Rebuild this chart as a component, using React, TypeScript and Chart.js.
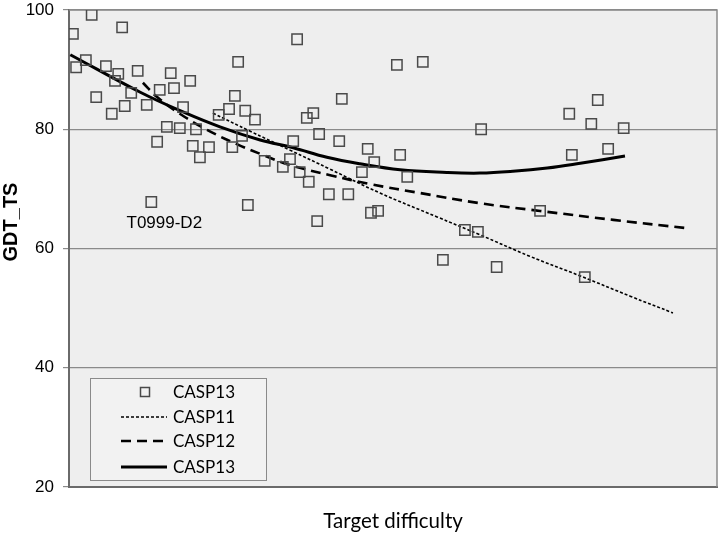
import { useEffect, useRef } from "react";
import { Chart, registerables } from "chart.js";

Chart.register(...registerables);

// ---------- text ----------
const X_TITLE = "Target difficulty";
const Y_TITLE = "GDT_TS";
const Y_MIN = 20;
const Y_MAX = 100;
const Y_STEP = 20;
const X_MIN = 0;
const X_MAX = 100;
const ANNOTATION_TEXT = "T0999-D2";
const ANNOTATION_INDEX = 35; // the CASP13 target that the label belongs to

// ---------- CASP13 targets (scatter) ----------
const casp13Difficulty = [
  0.6, 3.5, 8.2, 2.6, 1.1, 5.7, 7.6, 7.1, 10.6, 4.2,
  9.6, 6.6, 8.6, 12.0, 14.0, 15.7, 16.2, 18.7, 17.6, 15.1,
  17.1, 19.6, 13.6, 19.1, 21.6, 20.2, 23.1, 24.7, 25.6, 26.1,
  27.2, 28.7, 26.7, 25.2, 30.2, 12.7, 27.6, 35.2, 50.6, 54.6,
  42.1, 37.7, 36.7, 38.6, 34.6, 41.7, 46.1, 51.1, 47.1, 45.2,
  52.2, 33.0, 34.1, 35.6, 37.0, 40.1, 43.1, 46.6, 47.7, 38.3,
  63.6, 72.7, 61.1, 63.1, 57.7, 66.0, 79.6, 77.2, 81.6, 80.6,
  85.6, 83.2, 77.6,
];
const casp13Gdt = [
  96.0, 99.2, 97.1, 91.6, 90.4, 90.6, 89.3, 88.1, 89.8, 85.4,
  86.1, 82.6, 83.9, 84.1, 86.6, 89.4, 86.9, 88.1, 83.7, 80.4,
  80.2, 80.0, 77.9, 77.2, 77.0, 75.3, 82.4, 83.4, 85.6, 91.3,
  83.1, 81.6, 78.9, 77.0, 74.7, 67.8, 67.3, 95.1, 90.8, 91.3,
  85.1, 82.7, 81.9, 79.2, 78.0, 78.0, 76.7, 75.7, 74.5, 72.8,
  72.0, 73.7, 75.0, 72.8, 71.2, 69.1, 69.1, 66.0, 66.3, 64.6,
  80.0, 66.3, 63.1, 62.8, 58.1, 56.9, 55.2, 82.6, 84.9, 80.9,
  80.2, 76.7, 75.7,
];

// ---------- trend lines ----------
const casp11TrendX = [22.2, 27.9, 34.1, 40.3, 48.0, 56.8, 63.4, 71.1, 78.9, 86.6, 93.2];
const casp11TrendY = [82.7, 79.7, 76.5, 73.3, 69.3, 65.3, 62.3, 58.7, 55.4, 52.0, 49.2];

const casp12TrendX = [11.4, 13.6, 17.1, 21.3, 25.9, 29.9, 34.1, 40.3, 46.5, 54.2, 63.4, 72.7, 84.0, 95.4];
const casp12TrendY = [87.8, 85.4, 82.6, 79.9, 77.5, 75.7, 74.0, 72.3, 70.8, 69.3, 67.6, 66.3, 64.8, 63.4];

const casp13TrendX = [0.2, 11.0, 17.6, 23.3, 29.5, 34.6, 39.8, 44.9, 51.1, 58.3, 63.4, 68.5, 73.8, 78.9, 85.8];
const casp13TrendY = [92.5, 86.2, 82.9, 80.4, 78.2, 76.9, 75.3, 74.2, 73.2, 72.75, 72.65, 72.95, 73.5, 74.3, 75.5];

const seriesLabels = ["CASP13", "CASP11", "CASP12", "CASP13"];

const pts = (xs: number[], ys: number[]) => xs.map((x, i) => ({ x, y: ys[i] }));

const TICK_FONT = "Liberation Sans, Arial, sans-serif";
const TITLE_FONT = "Lato, Liberation Sans, sans-serif";

const zeroPad = (s: any) => {
  s.paddingTop = 0;
  s.paddingBottom = 0;
  s.paddingLeft = 0;
  s.paddingRight = 0;
};

const decorPlugin = {
  id: "decor",
  beforeDraw(chart: any) {
    const { ctx, chartArea: a } = chart;
    ctx.save();
    ctx.fillStyle = "#eeeeee";
    ctx.fillRect(a.left, a.top, a.right - a.left, a.bottom - a.top);
    ctx.restore();
  },
  beforeDatasetsDraw(chart: any) {
    const { ctx, chartArea: a } = chart;
    ctx.save();
    ctx.strokeStyle = "#8a8a8a";
    ctx.lineWidth = 1.5;
    ctx.beginPath();
    ctx.moveTo(a.left, a.top);
    ctx.lineTo(a.right, a.top);
    ctx.lineTo(a.right, a.bottom);
    ctx.stroke();
    ctx.restore();
  },
  afterDraw(chart: any) {
    const { ctx, chartArea: a } = chart;
    const xs = chart.scales.x;
    const ys = chart.scales.y;

    // y axis title
    ctx.save();
    ctx.translate(11, 222);
    ctx.rotate(-Math.PI / 2);
    ctx.font = `bold 20px ${TICK_FONT}`;
    ctx.fillStyle = "#000";
    ctx.textAlign = "center";
    ctx.textBaseline = "middle";
    ctx.fillText(Y_TITLE, 0, 0);
    ctx.restore();

    // annotation next to its target
    const ax = xs.getPixelForValue(casp13Difficulty[ANNOTATION_INDEX]);
    const ay = ys.getPixelForValue(casp13Gdt[ANNOTATION_INDEX]);
    ctx.save();
    ctx.font = `17px ${TICK_FONT}`;
    ctx.fillStyle = "#000";
    ctx.textAlign = "center";
    ctx.textBaseline = "middle";
    ctx.fillText(ANNOTATION_TEXT, ax + 13, ay + 21);
    ctx.restore();

    // legend box
    const bx = a.left + 21;
    const by = a.bottom - 109;
    const bw = 176;
    const bh = 102;
    ctx.save();
    ctx.fillStyle = "#f2f2f2";
    ctx.fillRect(bx, by, bw, bh);
    ctx.strokeStyle = "#8a8a8a";
    ctx.lineWidth = 1;
    ctx.strokeRect(bx + 0.5, by + 0.5, bw, bh);
    const rows = [14, 39, 63, 89];
    chart.data.datasets.forEach((ds: any, i: number) => {
      const ry = by + rows[i];
      ctx.save();
      if (i === 0) {
        const s = 9;
        ctx.strokeStyle = ds.borderColor;
        ctx.lineWidth = 1.5;
        ctx.strokeRect(bx + 55 - s / 2, ry - s / 2, s, s);
      } else {
        ctx.strokeStyle = ds.borderColor;
        ctx.lineWidth = ds.borderWidth;
        ctx.setLineDash(ds.borderDash || []);
        ctx.beginPath();
        ctx.moveTo(bx + 31, ry);
        ctx.lineTo(bx + 77, ry);
        ctx.stroke();
      }
      ctx.restore();
      ctx.font = `17px ${TITLE_FONT}`;
      ctx.fillStyle = "#000";
      ctx.textAlign = "left";
      ctx.textBaseline = "middle";
      ctx.fillText(ds.label, bx + 83, ry + 1);
    });
    ctx.restore();
  },
};

export default function App() {
  const ref = useRef<HTMLCanvasElement | null>(null);

  useEffect(() => {
    if (!ref.current) return;
    const chart = new Chart(ref.current, {
      type: "scatter",
      data: {
        datasets: [
          {
            label: seriesLabels[0],
            data: pts(casp13Difficulty, casp13Gdt),
            pointStyle: "rect",
            pointRadius: 7.3,
            pointBorderWidth: 1.5,
            borderColor: "#4a4a4a",
            pointBorderColor: "#4a4a4a",
            pointBackgroundColor: "rgba(0,0,0,0)",
            backgroundColor: "rgba(0,0,0,0)",
            showLine: false,
          },
          {
            label: seriesLabels[1],
            data: pts(casp11TrendX, casp11TrendY),
            showLine: true,
            pointRadius: 0,
            borderColor: "#000",
            borderWidth: 1.6,
            borderDash: [3, 2],
            tension: 0.4,
          },
          {
            label: seriesLabels[2],
            data: pts(casp12TrendX, casp12TrendY),
            showLine: true,
            pointRadius: 0,
            borderColor: "#000",
            borderWidth: 2.6,
            borderDash: [10, 6],
            tension: 0.4,
          },
          {
            label: seriesLabels[3],
            data: pts(casp13TrendX, casp13TrendY),
            showLine: true,
            pointRadius: 0,
            borderColor: "#000",
            borderWidth: 3,
            tension: 0.4,
          },
        ],
      },
      options: {
        animation: false,
        responsive: false,
        devicePixelRatio: 1,
        layout: { autoPadding: false, padding: { top: 10, right: 3, left: 0, bottom: 0 } },
        plugins: {
          legend: { display: false },
          tooltip: { enabled: false },
        },
        scales: {
          x: {
            type: "linear",
            min: X_MIN,
            max: X_MAX,
            ticks: { display: false },
            grid: { display: false },
            border: { display: true, color: "#6a6a6a", width: 2 },
            title: {
              display: true,
              text: X_TITLE,
              color: "#000",
              font: { family: TITLE_FONT, size: 20.5 },
              padding: { top: 0, bottom: 0 },
            },
            afterFit: (s: any) => {
              s.height = 47;
              zeroPad(s);
            },
          },
          y: {
            type: "linear",
            min: Y_MIN,
            max: Y_MAX,
            ticks: {
              stepSize: Y_STEP,
              color: "#000",
              padding: 9,
              font: { family: TICK_FONT, size: 17, lineHeight: 1 },
            },
            grid: {
              color: "#8a8a8a",
              lineWidth: 1.2,
              tickLength: 6,
              drawTicks: true,
            },
            border: { display: true, color: "#6a6a6a", width: 2 },
            afterFit: (s: any) => {
              s.width = 69;
              zeroPad(s);
            },
          },
        },
      },
      plugins: [decorPlugin],
    } as any);
    return () => chart.destroy();
  }, []);

  return (
    <div style={{ position: "absolute", left: 0, top: 0, width: 720, height: 534, background: "#fff" }}>
      <canvas ref={ref} width={720} height={534} style={{ width: 720, height: 534, display: "block" }} />
    </div>
  );
}
